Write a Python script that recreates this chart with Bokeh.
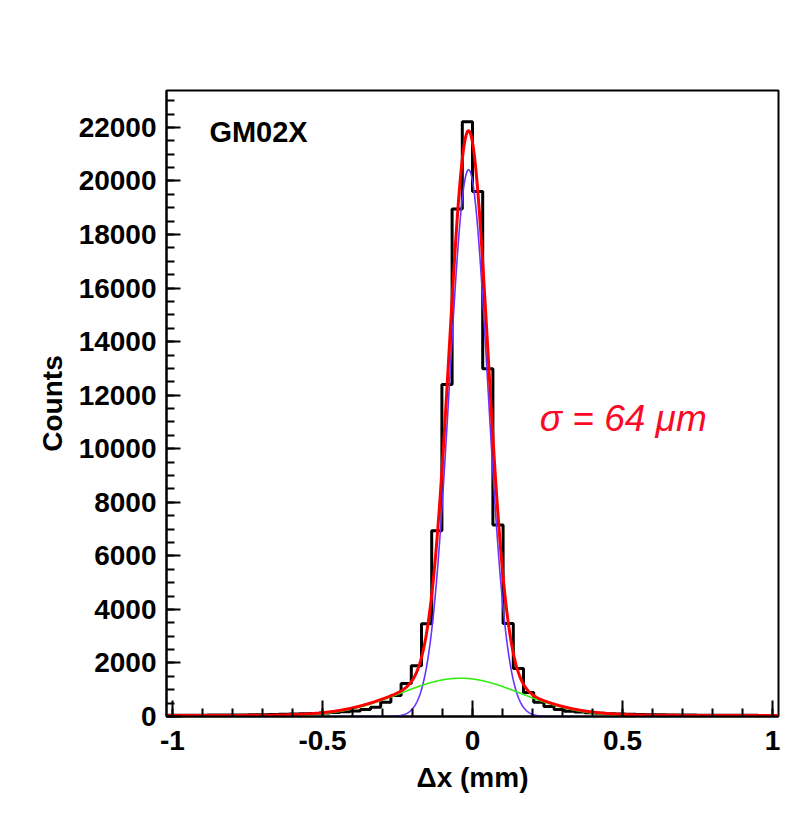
import numpy as np
from bokeh.plotting import figure
from bokeh.models import Range1d, FixedTicker, Label
from bokeh.embed import file_html
from bokeh.resources import INLINE

# ---------------- data ----------------
x_lo, x_hi = -1.02, 1.02
n_bins = 60
counts = [45, 50, 50, 50, 55, 55, 60, 60, 65, 70,
          75, 80, 90, 100, 115, 130, 150, 175, 205, 260,
          350, 530, 780, 1230, 1900, 3460, 6940, 12400, 18950, 22210,
          19610, 12990, 7150, 3470, 1790, 900, 530, 370, 260, 200,
          165, 140, 120, 105, 90, 80, 75, 70, 65, 60,
          55, 55, 50, 50, 50, 45, 45, 45, 40, 40]
y_max = 23380

# fit parameters: amplitude, mean, sigma
narrow_fit = [20420, -0.013, 0.064]
wide_fit = [1430, -0.04, 0.20]
fit_const = 40

y_ticks = [0, 2000, 4000, 6000, 8000, 10000, 12000, 14000, 16000, 18000, 20000, 22000]
y_minor = [v * 500 for v in range(47)]
x_ticks = [-1, -0.5, 0, 0.5, 1]
x_minor = [round(-1 + 0.1 * i, 1) for i in range(21)]
x_labels = {-1: "-1", -0.5: "-0.5", 0: "0", 0.5: "0.5", 1: "1"}

title_text = "GM02X"
sigma_text = "\u03c3 = 64 \u03bcm"

# ---------------- figure ----------------
FONT = "Liberation Sans"
p = figure(width=786, height=801,
           x_range=Range1d(x_lo, x_hi), y_range=Range1d(0, y_max),
           output_backend="svg", toolbar_location=None,
           min_border_left=166, min_border_right=8,
           min_border_top=90, min_border_bottom=85,
           x_axis_label="\u0394x (mm)", y_axis_label="Counts")
p.grid.visible = False
p.background_fill_color = "white"
p.border_fill_color = "white"
p.outline_line_color = "black"
p.outline_line_width = 2

edges = np.linspace(x_lo, x_hi, n_bins + 1)
p.step(x=list(edges), y=counts + [counts[-1]], mode="after",
       line_color="black", line_width=3)

def gauss(x, par):
    a, m, s = par
    return a * np.exp(-0.5 * ((x - m) / s) ** 2)

xs = np.linspace(x_lo, x_hi, 1200)
g_n = gauss(xs, narrow_fit)
g_w = gauss(xs, wide_fit)
p.line(xs, g_n, line_color="#6633ff", line_width=1.6)
p.line(xs, g_w, line_color="#33ee11", line_width=1.6)
p.line(xs, g_n + g_w + fit_const, line_color="#ff0000", line_width=3)

p.xaxis.ticker = FixedTicker(ticks=x_ticks, minor_ticks=x_minor)
p.yaxis.ticker = FixedTicker(ticks=y_ticks, minor_ticks=y_minor)
p.xaxis.major_label_overrides = x_labels

for ax in (p.xaxis[0], p.yaxis[0]):
    ax.axis_line_width = 2
    ax.axis_line_color = "black"
    ax.major_tick_out = 0
    ax.minor_tick_out = 0
    ax.major_tick_line_width = 2
    ax.minor_tick_line_width = 2
    ax.major_tick_line_color = "black"
    ax.minor_tick_line_color = "black"
    ax.major_label_text_font = FONT
    ax.major_label_text_font_size = "28px"
    ax.major_label_text_font_style = "bold"
    ax.major_label_text_color = "black"
    ax.axis_label_text_font = FONT
    ax.axis_label_text_font_size = "28px"
    ax.axis_label_text_font_style = "bold"
    ax.axis_label_text_color = "black"

p.xaxis.major_tick_in = 16
p.xaxis.minor_tick_in = 8
p.yaxis.major_tick_in = 14
p.yaxis.minor_tick_in = 8
p.xaxis.major_label_standoff = 14
p.yaxis.major_label_standoff = 10
p.xaxis.axis_label_standoff = 9
p.yaxis.axis_label_standoff = 8

p.add_layout(Label(x=-0.877, y=21820, text=title_text, text_font=FONT,
                   text_font_size="29px", text_font_style="bold",
                   text_color="black", text_baseline="alphabetic"))
p.add_layout(Label(x=0.224, y=11130, text=sigma_text, text_font=FONT,
                   text_font_size="37px", text_font_style="italic",
                   text_color="#fa0a28", text_baseline="alphabetic"))

open("out.html", "w").write(file_html(p, INLINE))
